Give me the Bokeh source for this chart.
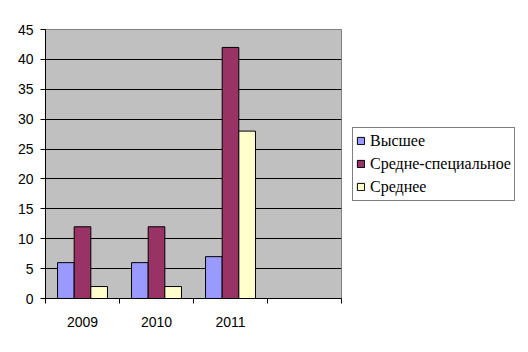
from bokeh.plotting import figure
from bokeh.models import Range1d, FixedTicker, Legend, LegendItem, ColumnDataSource
from bokeh.embed import file_html
from bokeh.resources import INLINE

years = ["2009", "2010", "2011"]
n_slots = 4  # an extra empty category slot on the right
series_names = ["Высшее", "Средне-специальное", "Среднее"]
higher = [6, 6, 7]
special = [12, 12, 42]
secondary = [2, 2, 28]
colors = ["#9999FF", "#993366", "#FFFFCC"]
y_ticks = [0, 5, 10, 15, 20, 25, 30, 35, 40, 45]

p = figure(frame_width=296, frame_height=269, output_backend="svg", toolbar_location=None,
           x_range=Range1d(0, n_slots), y_range=Range1d(0, 45),
           min_border_left=45, min_border_right=187, min_border_top=29, min_border_bottom=54)
p.background_fill_color = "#C0C0C0"
p.border_fill_color = "white"
p.outline_line_color = "#808080"
p.outline_line_width = 1

bw = 0.225
offsets = [-bw, 0, bw]
renderers = []
for vals, off, col in zip([higher, special, secondary], offsets, colors):
    src = ColumnDataSource(dict(x=[i + 0.5 + off for i in range(len(years))], top=vals))
    r = p.vbar(x="x", top="top", bottom=0, width=bw, source=src,
               fill_color=col, line_color="black", line_width=1)
    renderers.append(r)

# axes
p.yaxis.ticker = FixedTicker(ticks=y_ticks)
p.yaxis.axis_line_color = "black"
p.yaxis.major_tick_out = 5
p.yaxis.major_tick_in = 0
p.yaxis.minor_tick_line_color = None
p.yaxis.major_label_standoff = 7
p.yaxis.major_label_text_font = "Liberation Sans"
p.yaxis.major_label_text_font_size = "14px"
p.yaxis.major_label_text_color = "black"

centers = [i + 0.5 for i in range(n_slots)]
p.xaxis.ticker = FixedTicker(ticks=centers, minor_ticks=list(range(n_slots + 1)))
p.xaxis.major_label_overrides = {c: (years[i] if i < len(years) else "") for i, c in enumerate(centers)}
p.xaxis.axis_line_color = "black"
p.xaxis.major_tick_line_color = None
p.xaxis.major_tick_out = 0
p.xaxis.major_tick_in = 0
p.xaxis.minor_tick_out = 5
p.xaxis.minor_tick_in = 0
p.xaxis.minor_tick_line_color = "black"
p.xaxis.major_label_standoff = 13
p.xaxis.major_label_text_font = "Liberation Sans"
p.xaxis.major_label_text_font_size = "14px"
p.xaxis.major_label_text_color = "black"

p.xgrid.visible = False
p.ygrid.ticker = FixedTicker(ticks=y_ticks[1:-1])
p.ygrid.grid_line_color = "black"
p.ygrid.grid_line_alpha = 1

legend = Legend(items=[LegendItem(label=n, renderers=[r]) for n, r in zip(series_names, renderers)],
                location="left")
legend.label_text_font = "Liberation Serif"
legend.label_text_font_size = "16px"
legend.label_text_color = "black"
legend.glyph_width = 9
legend.glyph_height = 9
legend.label_standoff = 5
legend.label_height = 20
legend.spacing = 3
legend.padding = 3
legend.margin = 11
legend.border_line_color = "black"
legend.border_line_width = 1
legend.background_fill_color = "white"
legend.background_fill_alpha = 1
p.add_layout(legend, "right")

open("out.html", "w").write(file_html(p, INLINE))
